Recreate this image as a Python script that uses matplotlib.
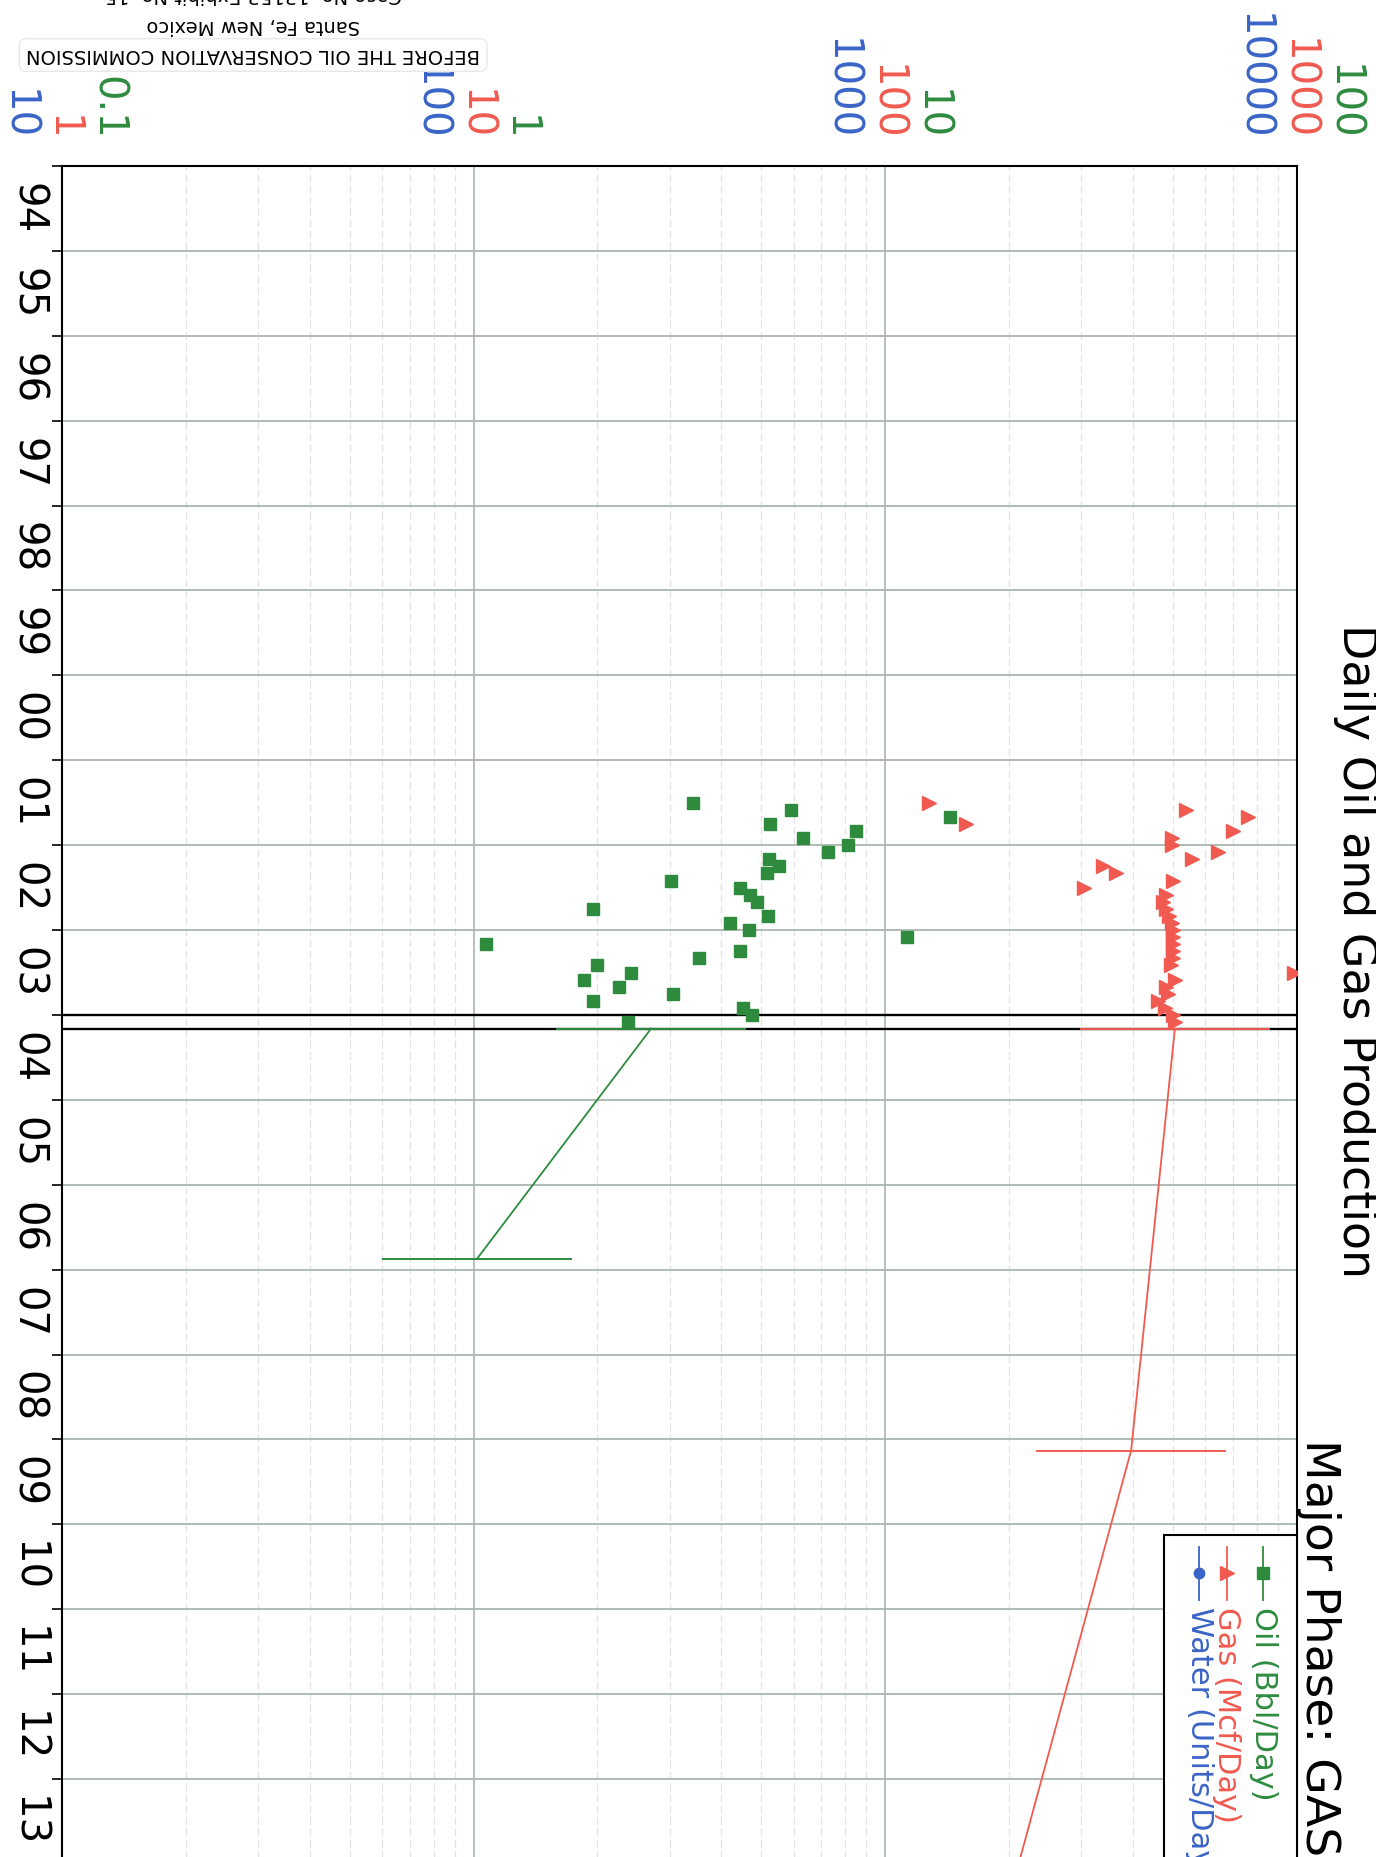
import matplotlib.pyplot as plt
from matplotlib.patches import Rectangle
from matplotlib import transforms

# monthly production
months = ["2001-07", "2001-08", "2001-09", "2001-10", "2001-11", "2001-12",
          "2002-01", "2002-02", "2002-03", "2002-04", "2002-05", "2002-06",
          "2002-07", "2002-08", "2002-09", "2002-10", "2002-11", "2002-12",
          "2003-01", "2003-02", "2003-03", "2003-04", "2003-05", "2003-06",
          "2003-07", "2003-08", "2003-09", "2003-10", "2003-11", "2003-12",
          "2004-01", "2004-02"]
oil_bbl = [3.41, 5.89, 14.4, 5.25, 8.48, 6.30, 8.11, 7.25, 5.23, 5.52, 5.17, 3.02,
           4.43, 4.69, 4.89, 1.95, 5.20, 4.20, 4.66, 11.3, 1.07, 4.45, 3.53, 1.99,
           2.41, 1.85, 2.25, 3.06, 1.95, 4.52, 4.75, 2.37]
gas_mcf = [128, 538, 762, 157, 699, 497, 497, 645, 556, 338, 363, 501,
           305, 481, 473, 481, 489, 498, 501, 501, 501, 501, 501, 495,
           984, 506, 481, 487, 460, 478, 501, 506]

# forecast segments (decimal years)
oil_fc_dates = [2004.16, 2006.87]
oil_fc = [2.70, 1.02]
gas_fc_dates = [2004.16, 2009.13, 2014.0]
gas_fc = [506, 396, 211]
cut_dates = [2004.0, 2004.16]

years = list(range(1994, 2015))
year_labels = ["94", "95", "96", "97", "98", "99", "00", "01", "02", "03",
               "04", "05", "06", "07", "08", "09", "10", "11", "12", "13"]
water_ticks = [10, 100, 1000, 10000]
gas_ticks = [1, 10, 100, 1000]
oil_ticks = [0.1, 1, 10, 100]

GREEN = "#2e8b3e"
RED = "#f05a50"
BLUE = "#3a64c6"
GRID = "#aab5b0"

plt.rcParams['font.family'] = ['DejaVu Sans']


def to_year(s):
    y, m = s.split("-")
    return int(y) + (int(m) - 1) / 12


dates = [to_year(m) for m in months]

fig = plt.figure(figsize=(13.76, 18.57), dpi=100)
ax = fig.add_axes([0.04506, -0.00377, 0.8973, 0.91438])

# gas axis is the base one
ax.set_xscale('log')
ax.set_xlim(1, 1000)
ax.set_ylim(2014, 1994)
ax.xaxis.tick_top()
ax.set_xticks(gas_ticks)
ax.set_xticklabels([])
ax.tick_params(axis='x', which='major', length=7, width=1.2, direction='out')
ax.tick_params(axis='x', which='minor', length=0)
ax.set_yticks(years)
ax.set_yticklabels([])
ax.set_yticks([y + 0.5 for y in years[:-1]], year_labels, minor=True)
ax.tick_params(axis='y', which='major', length=7, width=1.2, direction='out')
ax.tick_params(axis='y', which='minor', length=0, pad=25, labelsize=29)
for lab in ax.get_yticklabels(minor=True):
    lab.set_rotation(-90)
    lab.set_ha('center')
    lab.set_va('center')

ax.grid(axis='x', which='minor', color='#e2e2e2', lw=0.9, ls=(0, (6, 3)))
ax.grid(axis='x', which='major', color=GRID, lw=1.2)
ax.grid(axis='y', which='major', color=GRID, lw=1.3)
for sp in ['left', 'top', 'right']:
    ax.spines[sp].set_linewidth(1.5)
    ax.spines[sp].set_color('black')

for d in cut_dates:
    ax.axhline(d, color='black', lw=1.7, zorder=3)

# gas
ax.plot(gas_mcf, dates, '>', color=RED, ms=9.5, ls='none', zorder=4)
ax.plot(gas_fc, gas_fc_dates, '-', color=RED, lw=1.3, marker='_', ms=137,
        mew=1.4, markevery=[0, 1], zorder=4)

# oil on its own x scale
ax_oil = ax.twiny()
ax_oil.set_xscale('log')
ax_oil.set_xlim(0.1, 100)
ax_oil.set_ylim(2014, 1994)
ax_oil.xaxis.set_visible(False)
for sp in ax_oil.spines.values():
    sp.set_visible(False)
ax_oil.plot(oil_bbl, dates, 's', color=GREEN, ms=8.6, ls='none', zorder=4)
ax_oil.plot(oil_fc, oil_fc_dates, '-', color=GREEN, lw=1.3, marker='_', ms=137,
            mew=1.4, zorder=4)

# water scale (labels only)
ax_w = ax.twiny()
ax_w.set_xscale('log')
ax_w.set_xlim(10, 10000)
ax_w.set_ylim(2014, 1994)
ax_w.xaxis.set_visible(False)
for sp in ax_w.spines.values():
    sp.set_visible(False)

# coloured decade labels above the frame
for axis, ticks, color, dx in [(ax_w, water_ticks, BLUE, -32.4),
                               (ax, gas_ticks, RED, 0),
                               (ax_oil, oil_ticks, GREEN, 32.4)]:
    tr = transforms.blended_transform_factory(axis.transData, axis.transAxes)
    tr = transforms.offset_copy(tr, fig=fig, x=dx, y=18.5, units='points')
    for t in ticks:
        axis.text(t, 1, "%g" % t, transform=tr, rotation=-90, ha='center',
                  va='bottom', fontsize=29, color=color, clip_on=False)

# legend drawn by hand (chart is rotated)
ax_w.add_patch(Rectangle((0.8928, -0.02), 0.1072, 0.2138, transform=ax_w.transAxes,
                         facecolor='white', edgecolor='black', lw=1.5,
                         zorder=10, clip_on=False))
legend_items = [("Oil (Bbl/Day)", GREEN, 's', 0.9729, 8.6),
                ("Gas (Mcf/Day)", RED, '>', 0.9433, 9.5),
                ("Water (Units/Day)", BLUE, 'o', 0.9211, 7.5)]
for label, color, mk, lx, ms in legend_items:
    ax_w.plot([lx, lx], [0.1869, 0.1555], color=color, lw=1.3,
              transform=ax_w.transAxes, zorder=11, clip_on=False)
    ax_w.plot([lx], [0.1714], marker=mk, color=color, ms=ms,
              transform=ax_w.transAxes, zorder=11, clip_on=False)
    ax_w.text(lx, 0.1514, label, transform=ax_w.transAxes, rotation=-90,
              ha='center', va='top', fontsize=22, color=color, zorder=12)

# titles
fig.text(0.9850, 0.6640, "Daily Oil and Gas Production", rotation=-90,
         ha='center', va='top', fontsize=33)
fig.text(0.9580, 0.2253, "Major Phase: GAS", rotation=-90,
         ha='center', va='top', fontsize=34)

# exhibit stamp (upside down)
fig.text(0.184, 0.9704, "BEFORE THE OIL CONSERVATION COMMISSION", rotation=180,
         ha='center', va='center', fontsize=14,
         bbox=dict(boxstyle='round,pad=0.35', fc='white', ec='#e8e8e8', lw=1))
fig.text(0.184, 0.9865, "Santa Fe, New Mexico", rotation=180,
         ha='center', va='center', fontsize=14)
fig.text(0.184, 1.003, "Case No. 13153 Exhibit No. 15", rotation=180,
         ha='center', va='center', fontsize=14)

fig.savefig("out.png", dpi=100)
